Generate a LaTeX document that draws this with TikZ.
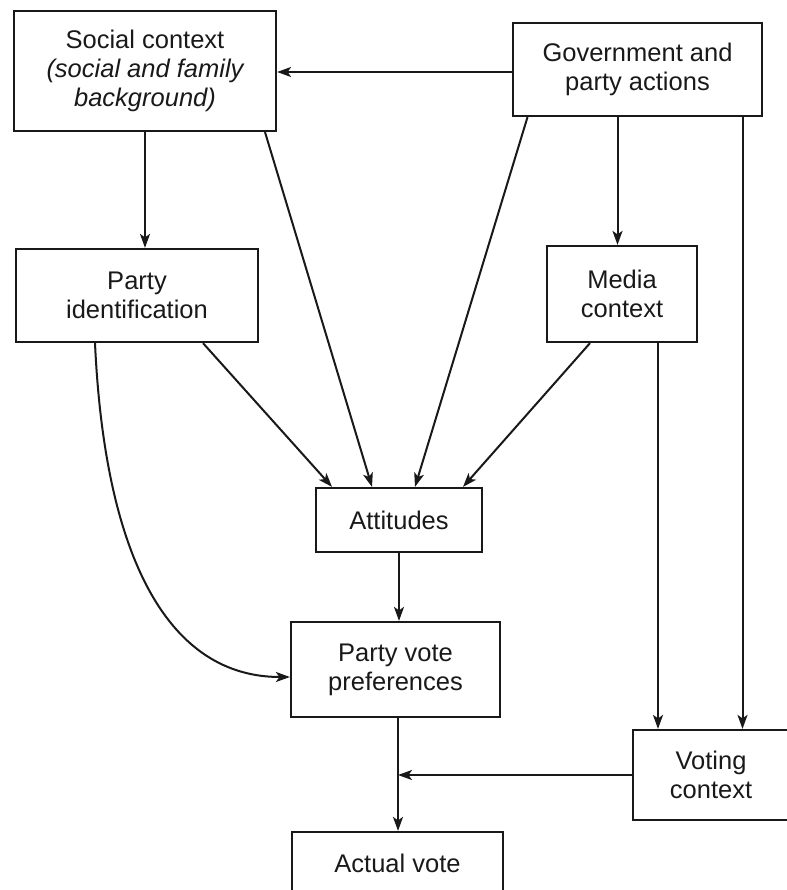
\documentclass[tikz,border=0pt]{standalone}
\usepackage{fontspec}
\setmainfont{Liberation Sans}
\usetikzlibrary{arrows.meta}
\newcommand\myboxfont{\fontsize{25.5}{29}\selectfont}
\begin{document}
\begin{tikzpicture}[x=1pt,y=-1pt,
  box/.style={draw=black!90,line width=2.2pt,rectangle,inner sep=0pt,align=center,
    font=\myboxfont,text=black!90},
  conn/.style={draw=black!90,line width=2pt,-{Stealth[length=14pt,width=10pt,inset=3.5pt]}}]
\useasboundingbox (0,0) rectangle (786,890);
\node[box,minimum width=262pt,minimum height=120pt] (soc) at (145,71)
  {Social context\\{\itshape (social and family}\\{\itshape background)}};
\node[box,minimum width=249pt,minimum height=93pt] (gov) at (637.5,69.5)
  {Government and\\party actions};
\node[box,minimum width=242pt,minimum height=93pt] (pid) at (137,295.5)
  {Party\\identification};
\node[box,minimum width=150pt,minimum height=96pt] (med) at (622,294)
  {Media\\context};
\node[box,minimum width=166pt,minimum height=64pt] (att) at (399,520)
  {Attitudes};
\node[box,minimum width=209pt,minimum height=95pt] (pvp) at (395.5,669.5)
  {Party vote\\preferences};
\node[box,minimum width=156pt,minimum height=90pt] (vot) at (711,775)
  {Voting\\context};
\node[box,minimum width=211pt,minimum height=62pt] (act) at (397.5,863)
  {Actual vote};
% connectors
\draw[conn] ([yshift=-2.5pt]gov.west) -- ([yshift=-2.5pt]gov.west -| soc.east);
\draw[conn] (soc.south) -- (soc.south |- pid.north);
\draw[conn] ([xshift=120pt]soc.south) -- ([xshift=-27pt]att.north);
\draw[conn] ([xshift=-110pt]gov.south) -- ([xshift=16pt]att.north);
\draw[conn] ([xshift=-20pt]gov.south) -- ([xshift=-20pt]gov.south |- med.north);
\draw[conn] ([xshift=105pt]gov.south) -- ([xshift=105pt]gov.south |- vot.north);
\draw[conn] ([xshift=66pt]pid.south) -- ([xshift=-67pt]att.north);
\draw[conn] ([xshift=-32pt]med.south) -- ([xshift=64pt]att.north);
\draw[conn] ([xshift=36pt]med.south) -- ([xshift=36pt]med.south |- vot.north);
\draw[conn] ([xshift=-42pt]pid.south) .. controls +(10,218) and +(-120,0) .. ([yshift=-7.5pt]pvp.west);
\draw[conn] (att.south) -- (att.south |- pvp.north);
\draw[conn] ([xshift=2.5pt]pvp.south) -- ([xshift=2.5pt]pvp.south |- act.north);
\draw[conn] (vot.west) -- ([xshift=2.5pt]vot.west -| pvp.south);
\end{tikzpicture}
\end{document}
